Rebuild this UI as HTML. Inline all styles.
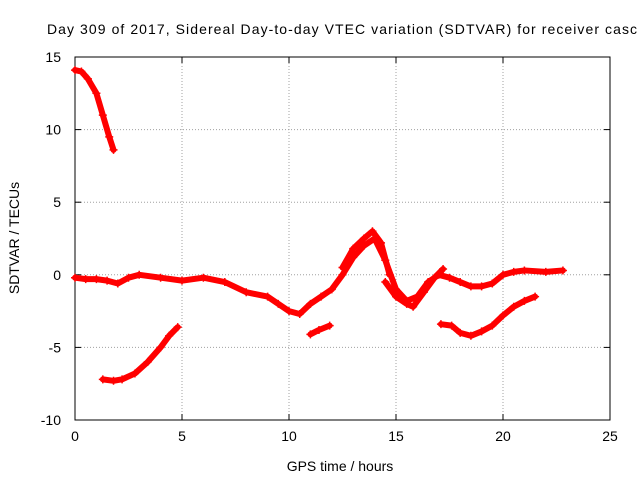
<!DOCTYPE html>
<html><head><meta charset="utf-8"><style>
body{margin:0;background:#fff;}
svg text{font-family:"Liberation Sans",sans-serif;font-size:14px;fill:#000;}
</style></head><body>
<svg id="chart" width="640" height="480">
<text x="47" y="34" textLength="590" lengthAdjust="spacing">Day 309 of 2017, Sidereal Day-to-day VTEC variation (SDTVAR) for receiver casc</text>
<g id="grid"></g>
<g id="axes"></g>
<g id="series"></g>
<text x="340" y="471" text-anchor="middle">GPS time / hours</text>
<text transform="translate(19,238) rotate(-90)" text-anchor="middle">SDTVAR / TECUs</text>
</svg>
<script>
const xTicks=[0,5,10,15,20,25];
const yTicks=[-10,-5,0,5,10,15];
const s1t=[0,0.3,0.6,1.0,1.3,1.6,1.8];
const s1v=[14.1,14.0,13.5,12.5,11.0,9.5,8.6];
const s2t=[1.3,1.8,2.2,2.8,3.4,4.0,4.4,4.8];
const s2v=[-7.2,-7.3,-7.2,-6.8,-6.0,-5.0,-4.2,-3.6];
const s3t=[0,0.5,1,1.5,2,2.5,3,4,5,6,7,8,9,9.5,10,10.5,11,11.5,12,12.5,13,13.5,14,14.5,15,15.5,16,16.5,17,17.5,18,18.5,19,19.5,20,20.5,21,22,22.8];
const s3v=[-0.2,-0.3,-0.3,-0.4,-0.6,-0.2,0,-0.2,-0.4,-0.2,-0.5,-1.2,-1.5,-2,-2.5,-2.7,-2,-1.5,-1,0,1.2,2,2.5,1,-1,-1.8,-1.5,-0.5,0,-0.2,-0.5,-0.8,-0.8,-0.6,0,0.2,0.3,0.2,0.3];
const s4t=[12.5,13,13.5,13.9,14.3,14.7];
const s4v=[0.5,1.8,2.5,3.0,2.2,0];
const s5t=[14.5,15,15.5,15.8,16.3,16.8,17.2];
const s5v=[-0.5,-1.5,-2.0,-2.2,-1.2,-0.2,0.4];
const s6t=[11,11.4,11.9];
const s6v=[-4.1,-3.8,-3.5];
const s7t=[17.1,17.6,18,18.5,19,19.5,20,20.5,21,21.5];
const s7v=[-3.4,-3.5,-4,-4.2,-3.9,-3.5,-2.8,-2.2,-1.8,-1.5];
const X=t=>75+t*(610-75)/25;
const Y=v=>420-(v+10)*(420-57)/25;
const NS="http://www.w3.org/2000/svg";
function mk(tag,attrs,parent){const e=document.createElementNS(NS,tag);for(const k in attrs)e.setAttribute(k,attrs[k]);parent.appendChild(e);return e;}
const grid=document.getElementById('grid'),axes=document.getElementById('axes'),ser=document.getElementById('series');
xTicks.forEach(t=>{
 if(t>0&&t<25){const l=mk('line',{x1:X(t),x2:X(t),y1:57,y2:420,stroke:'#a0a0a0','stroke-dasharray':'1,2'},grid);
 
 }
 const tx=mk('text',{x:X(t),y:441,'text-anchor':'middle'},axes);tx.textContent=t;
 
 
 mk('line',{x1:X(t),x2:X(t),y1:420,y2:414,stroke:'#000'},axes);
 mk('line',{x1:X(t),x2:X(t),y1:57,y2:63,stroke:'#000'},axes);
});
yTicks.forEach(v=>{
 if(v>-10&&v<15){const l=mk('line',{x1:75,x2:610,y1:Y(v),y2:Y(v),stroke:'#a0a0a0','stroke-dasharray':'1,2'},grid);
 
 }
 const tx=mk('text',{x:61,y:Y(v)+5,'text-anchor':'end'},axes);tx.textContent=v;
 
 
 mk('line',{x1:75,x2:81,y1:Y(v),y2:Y(v),stroke:'#000'},axes);
 mk('line',{x1:610,x2:604,y1:Y(v),y2:Y(v),stroke:'#000'},axes);
});
const fr=mk('rect',{x:75,y:57,width:535,height:363,fill:'none',stroke:'#000'},axes);


[[s1t,s1v],[s2t,s2v],[s3t,s3v],[s4t,s4v],[s5t,s5v],[s6t,s6v],[s7t,s7v]].forEach(([ts,vs],i)=>{
 const pl=mk('polyline',{points:ts.map((t,j)=>X(t)+','+Y(vs[j])).join(' '),fill:'none',stroke:'#f00','stroke-width':6,'stroke-linejoin':'round','stroke-linecap':'round'},ser);
 
 
 ts.forEach((t,j)=>{const p=mk('path',{d:`M${X(t)-4},${Y(vs[j])}h8M${X(t)},${Y(vs[j])-4}v8`,stroke:'#f00','stroke-width':1.5},ser);
 
 });
});
</script>
</body></html>
